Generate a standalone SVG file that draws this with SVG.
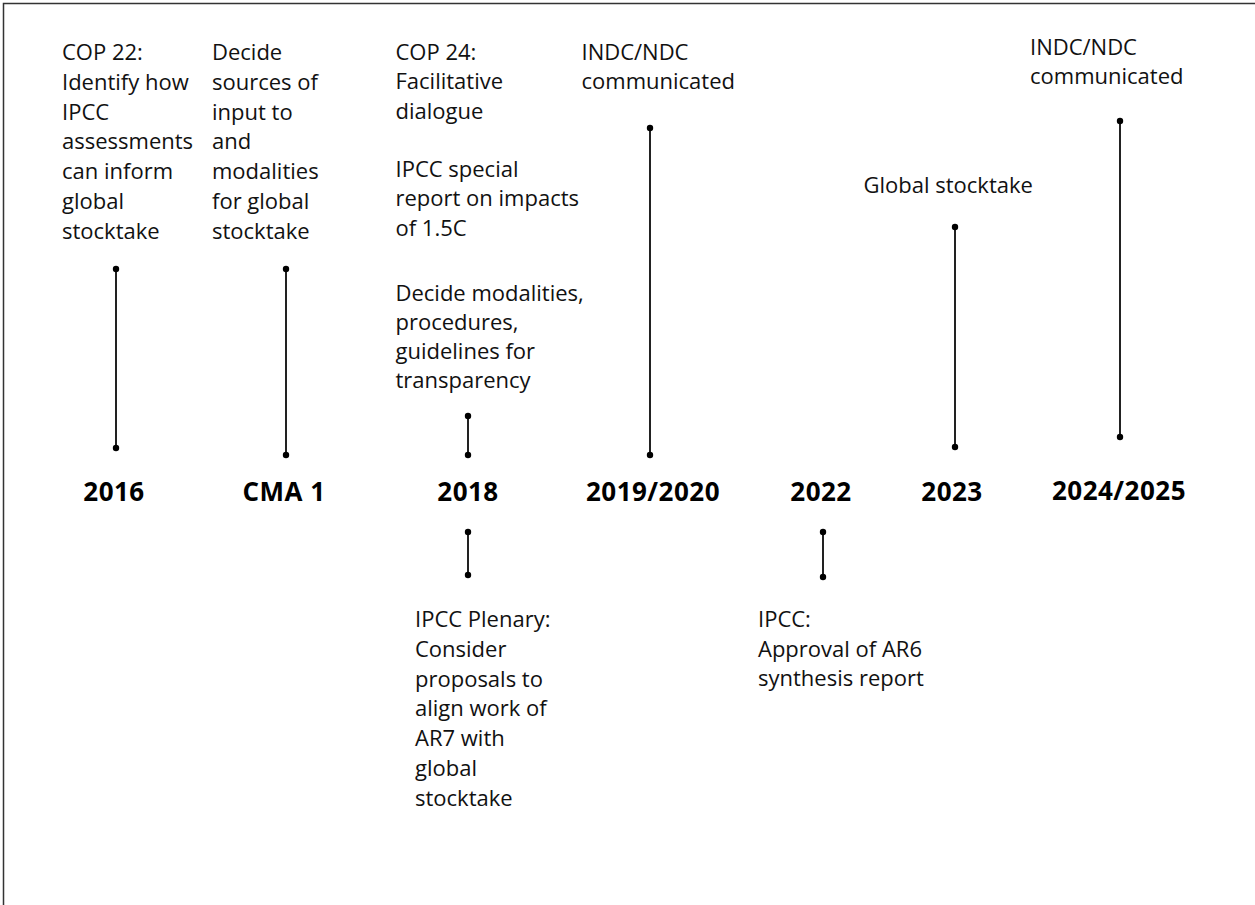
<svg xmlns="http://www.w3.org/2000/svg" width="1255" height="905" viewBox="0 0 1255 905">
  <style>
    .t { font-family: "Open Sans", "Liberation Sans", sans-serif; font-size: 22px; fill: #111; }
    .y { font-family: "Open Sans", "Liberation Sans", sans-serif; font-size: 26px; font-weight: bold; fill: #000; text-anchor: middle; letter-spacing: 0.5px; }
    .c { stroke: #222; stroke-width: 2; fill: none; marker-start: url(#dot); marker-end: url(#dot); }
  </style>
  <defs>
    <marker id="dot" markerUnits="userSpaceOnUse" markerWidth="8" markerHeight="8" refX="4" refY="4" orient="auto">
      <circle cx="4" cy="4" r="3.2" fill="#000"/>
    </marker>
  </defs>
  <rect width="1255" height="905" fill="#fff"/>
  <path d="M3.5,905 V3.5 H1255" stroke="#333" stroke-width="1.5" fill="none"/>

  <g id="n2016">
    <text class="t" x="62" y="60">COP 22:</text>
    <text class="t" x="62" y="89.8">Identify how</text>
    <text class="t" x="62" y="119.6">IPCC</text>
    <text class="t" x="62" y="149.4">assessments</text>
    <text class="t" x="62" y="179.2">can inform</text>
    <text class="t" x="62" y="209">global</text>
    <text class="t" x="62" y="238.8">stocktake</text>
    <text class="y" x="114" y="501">2016</text>
  </g>

  <g id="ncma1">
    <text class="t" x="212" y="60">Decide</text>
    <text class="t" x="212" y="89.8">sources of</text>
    <text class="t" x="212" y="119.6">input to</text>
    <text class="t" x="212" y="149.4">and</text>
    <text class="t" x="212" y="179.2">modalities</text>
    <text class="t" x="212" y="209">for global</text>
    <text class="t" x="212" y="238.8">stocktake</text>
    <text class="y" x="284" y="501">CMA 1</text>
  </g>

  <g id="n2018">
    <text class="t" x="395.5" y="60">COP 24:</text>
    <text class="t" x="395.5" y="89.3">Facilitative</text>
    <text class="t" x="395.5" y="118.6">dialogue</text>
    <text class="t" x="395.5" y="177">IPCC special</text>
    <text class="t" x="395.5" y="206.3">report on impacts</text>
    <text class="t" x="395.5" y="235.6">of 1.5C</text>
    <text class="t" x="395.5" y="301">Decide modalities,</text>
    <text class="t" x="395.5" y="330">procedures,</text>
    <text class="t" x="395.5" y="359">guidelines for</text>
    <text class="t" x="395.5" y="388">transparency</text>
    <text class="y" x="468" y="501">2018</text>
    <text class="t" x="415" y="627">IPCC Plenary:</text>
    <text class="t" x="415" y="656.8">Consider</text>
    <text class="t" x="415" y="686.6">proposals to</text>
    <text class="t" x="415" y="716.4">align work of</text>
    <text class="t" x="415" y="746.2">AR7 with</text>
    <text class="t" x="415" y="776">global</text>
    <text class="t" x="415" y="805.8">stocktake</text>
  </g>

  <g id="n2019">
    <text class="t" x="581.5" y="60">INDC/NDC</text>
    <text class="t" x="581.5" y="89">communicated</text>
    <text class="y" x="653" y="501">2019/2020</text>
  </g>

  <g id="n2022">
    <text class="y" x="821" y="501">2022</text>
    <text class="t" x="758" y="627">IPCC:</text>
    <text class="t" x="758" y="656.5">Approval of AR6</text>
    <text class="t" x="758" y="686">synthesis report</text>
  </g>

  <g id="n2023">
    <text class="t" x="863.5" y="193">Global stocktake</text>
    <text class="y" x="952" y="501">2023</text>
  </g>

  <g id="n2024">
    <text class="t" x="1030" y="55">INDC/NDC</text>
    <text class="t" x="1030" y="84">communicated</text>
    <text class="y" x="1119" y="500">2024/2025</text>
  </g>

  <g id="connectors">
    <line class="c" x1="116" y1="269" x2="116" y2="448"/>
    <line class="c" x1="286" y1="269" x2="286" y2="455"/>
    <line class="c" x1="468" y1="416" x2="468" y2="455"/>
    <line class="c" x1="468" y1="532" x2="468" y2="575"/>
    <line class="c" x1="650" y1="128" x2="650" y2="455"/>
    <line class="c" x1="823" y1="532" x2="823" y2="577"/>
    <line class="c" x1="955" y1="227" x2="955" y2="447"/>
    <line class="c" x1="1120" y1="121" x2="1120" y2="437"/>
  </g>
</svg>
